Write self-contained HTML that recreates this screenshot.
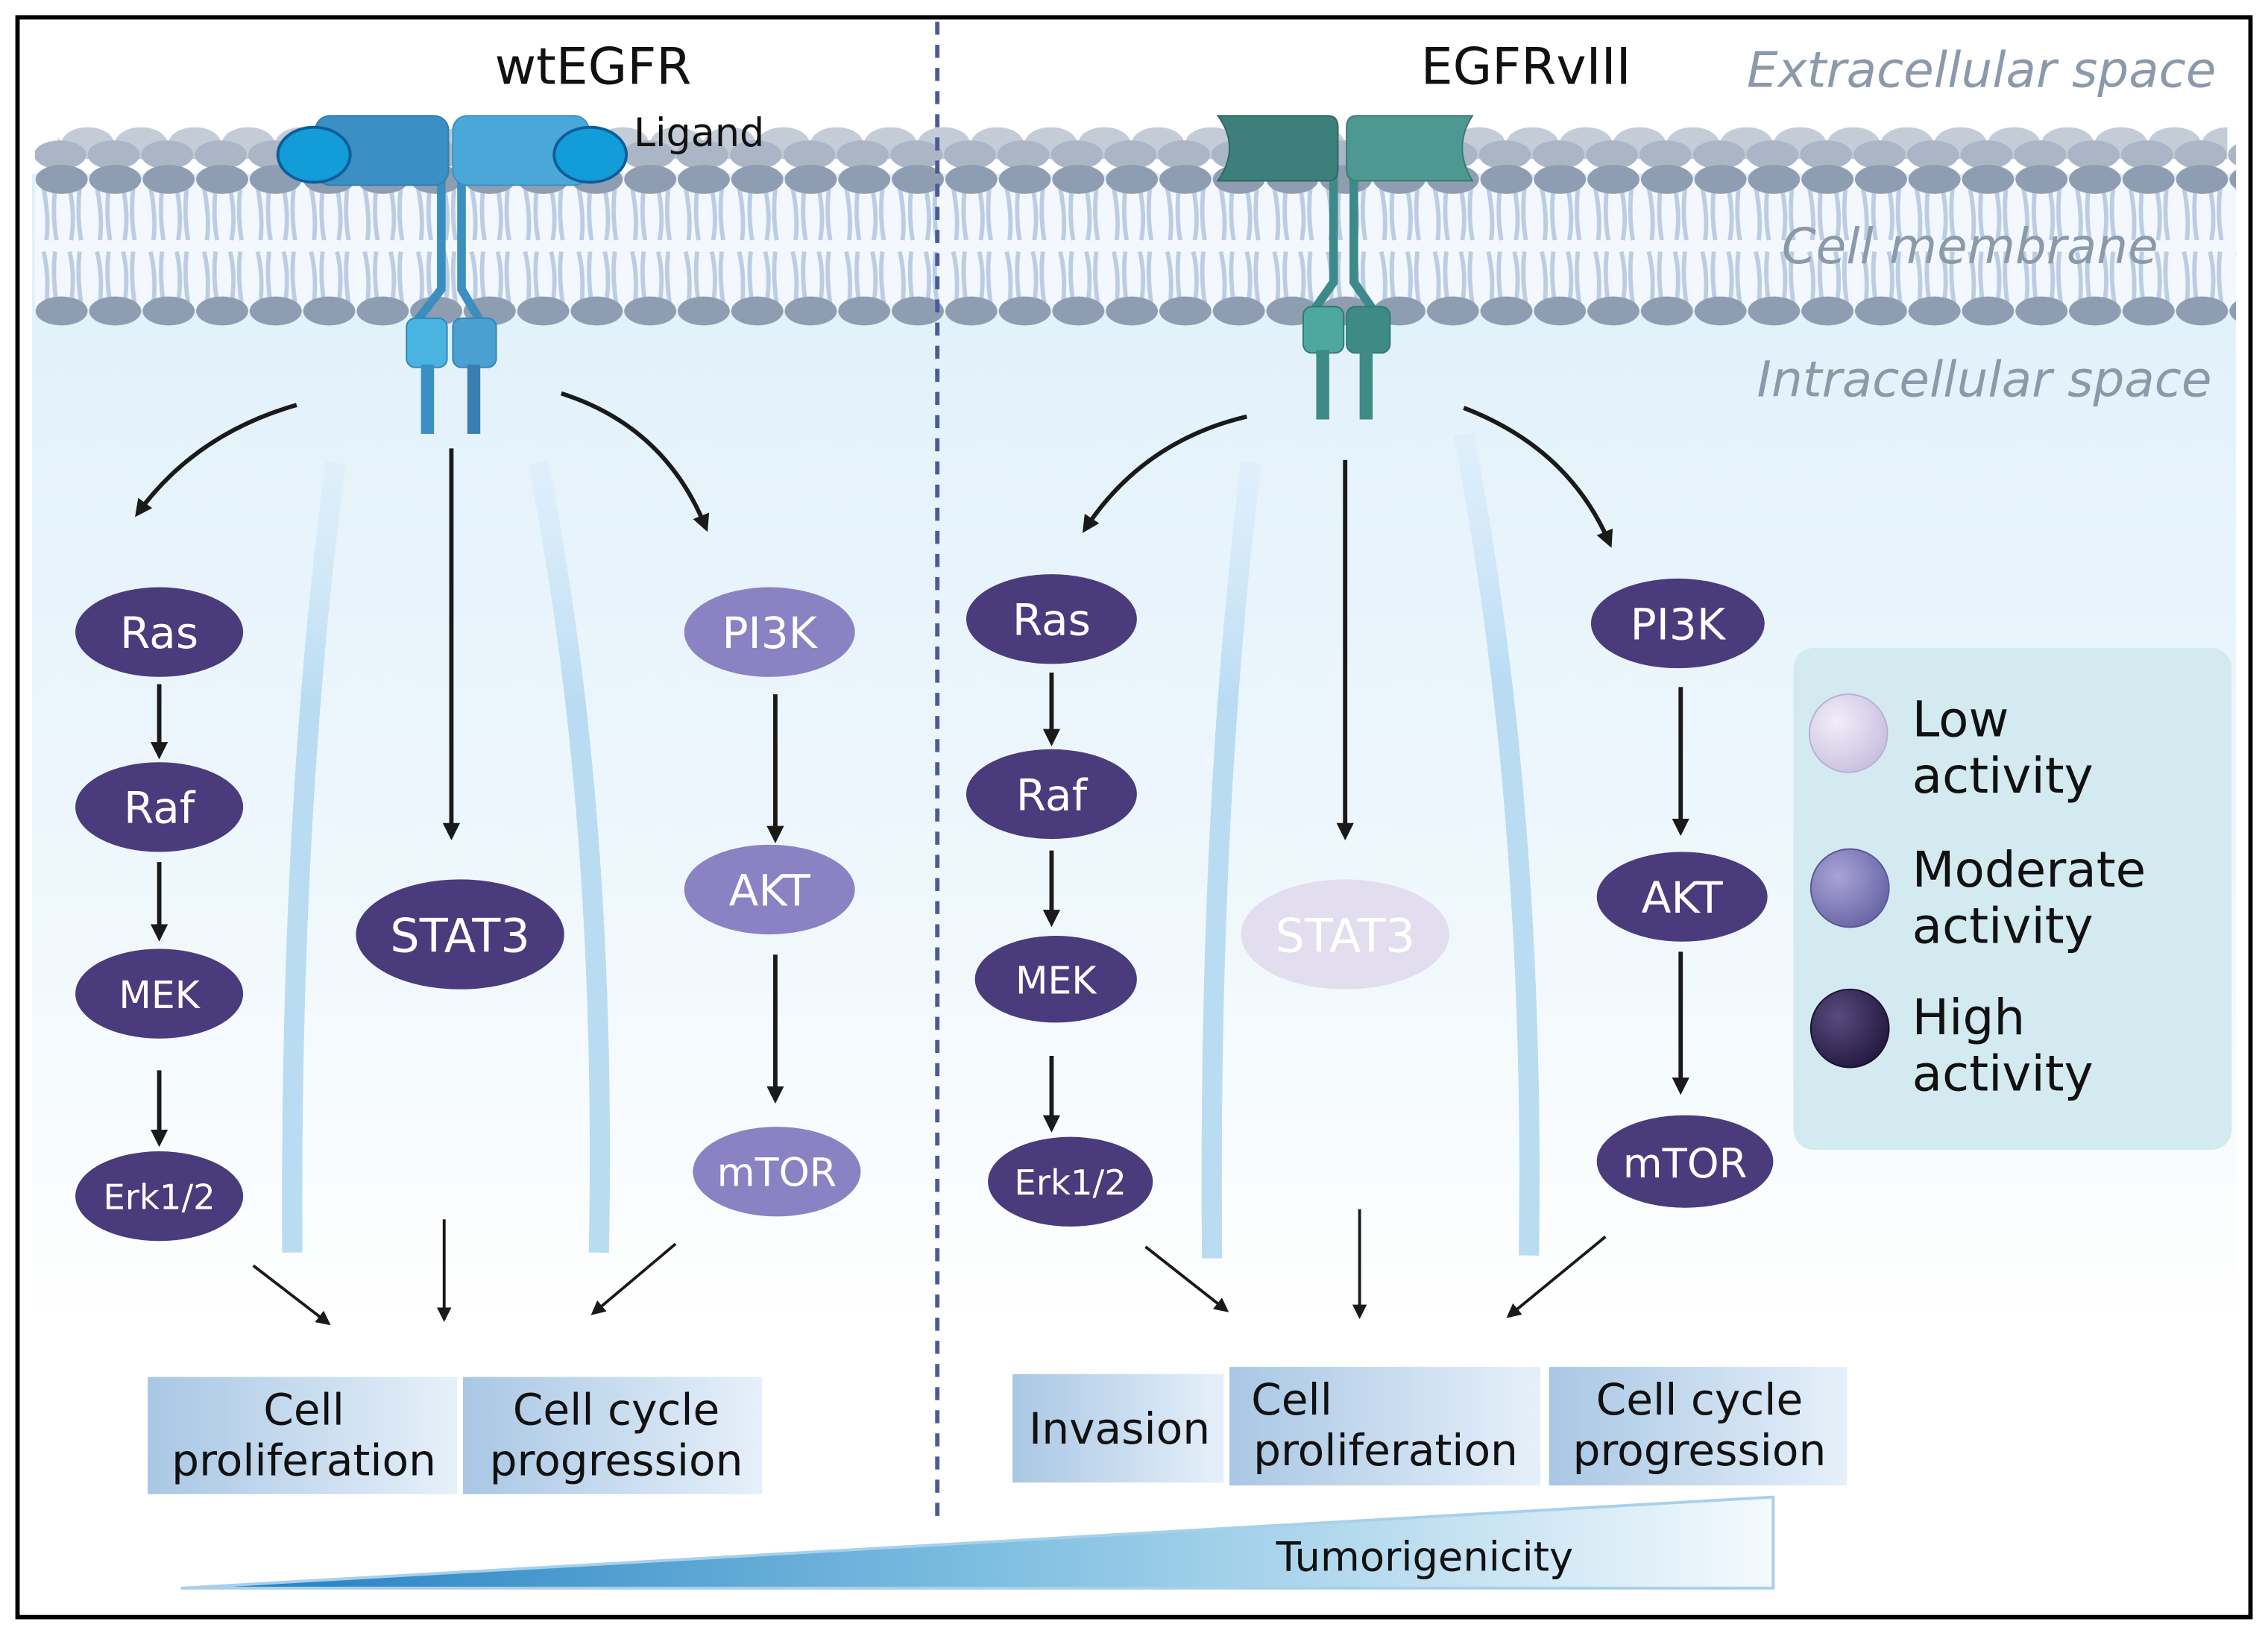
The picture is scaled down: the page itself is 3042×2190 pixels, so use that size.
<!DOCTYPE html>
<html><head><meta charset="utf-8">
<style>
html,body{margin:0;padding:0;background:#fff;}
svg{display:block;}
text{font-family:"DejaVu Sans","Liberation Sans",sans-serif;}
</style></head>
<body>
<svg width="3042" height="2190" viewBox="0 0 1568 1129" xmlns="http://www.w3.org/2000/svg">
<defs>
<linearGradient id="bg" x1="0" y1="0" x2="0" y2="1">
<stop offset="0" stop-color="#dff0fa"/><stop offset="0.6" stop-color="#eef7fc"/><stop offset="1" stop-color="#ffffff"/>
</linearGradient>
<linearGradient id="box" x1="0" y1="0" x2="1" y2="0">
<stop offset="0" stop-color="#a9c7e4"/><stop offset="1" stop-color="#e6f0fa"/>
</linearGradient>
<linearGradient id="tri" x1="0" y1="0" x2="1" y2="0">
<stop offset="0" stop-color="#1f7bbf"/><stop offset="0.5" stop-color="#7cbde0"/><stop offset="1" stop-color="#f4fafd"/>
</linearGradient>
<linearGradient id="band" x1="0" y1="0" x2="0" y2="1">
<stop offset="0" stop-color="#cfe6f7" stop-opacity="0.3"/><stop offset="0.3" stop-color="#b9dcf3"/><stop offset="1" stop-color="#b9dcf3"/>
</linearGradient>
<radialGradient id="sLow" cx="0.35" cy="0.35" r="0.7"><stop offset="0" stop-color="#f2eef9"/><stop offset="1" stop-color="#c9c0e0"/></radialGradient>
<radialGradient id="sMod" cx="0.35" cy="0.35" r="0.7"><stop offset="0" stop-color="#a9a4d6"/><stop offset="1" stop-color="#6a66a8"/></radialGradient>
<radialGradient id="sHigh" cx="0.35" cy="0.35" r="0.7"><stop offset="0" stop-color="#5a4a80"/><stop offset="1" stop-color="#241a40"/></radialGradient>
<marker id="ah" markerWidth="10" markerHeight="10" refX="8" refY="5" orient="auto" markerUnits="userSpaceOnUse"><path d="M0,0 L10,5 L0,10 Z" fill="#1a1a1a"/></marker>
<marker id="ahs" markerWidth="12" markerHeight="12" refX="9" refY="6" orient="auto" markerUnits="userSpaceOnUse"><path d="M0,0 L12,6 L0,12 Z" fill="#1a1a1a"/></marker>
<pattern id="tails" x="24" y="130" width="37" height="80" patternUnits="userSpaceOnUse">
<path d="M6,0 Q10,20 8,36 M14,0 Q12,20 15,36 M24,0 Q28,20 25,36 M31,0 Q29,20 32,36" stroke="#bccde3" stroke-width="3" fill="none"/>
<path d="M6,44 Q10,60 8,80 M14,44 Q12,60 15,80 M24,44 Q28,60 25,80 M31,44 Q29,60 32,80" stroke="#bccde3" stroke-width="3" fill="none"/>
</pattern>
<pattern id="headsB" x="5" y="84" width="37" height="30" patternUnits="userSpaceOnUse">
<ellipse cx="18.5" cy="15" rx="18" ry="11" fill="#c4ccd8"/>
</pattern>
<pattern id="headsB2" x="23" y="96" width="37" height="22" patternUnits="userSpaceOnUse">
<ellipse cx="18.5" cy="11" rx="18" ry="10" fill="#aab6c6"/>
</pattern>
<pattern id="heads" x="24" y="112" width="37" height="24" patternUnits="userSpaceOnUse">
<ellipse cx="18.5" cy="12" rx="18" ry="10" fill="#8e9db1"/>
</pattern>
<pattern id="heads2" x="24" y="203" width="37" height="24" patternUnits="userSpaceOnUse">
<ellipse cx="18.5" cy="12" rx="18" ry="10" fill="#8e9db1"/>
</pattern>
</defs>

<rect x="0" y="0" width="1568" height="1129" fill="#fff"/>
<rect x="22" y="120" width="1524" height="800" fill="url(#bg)"/>

<!-- membrane -->
<rect x="40" y="84" width="1500" height="30" fill="url(#headsB)"/>
<rect x="24" y="96" width="1522" height="22" fill="url(#headsB2)"/>
<rect x="24" y="124" width="1522" height="90" fill="#f2f8fd"/>
<rect x="24" y="130" width="1522" height="80" fill="url(#tails)"/>
<rect x="24" y="112" width="1522" height="24" fill="url(#heads)"/>
<rect x="24" y="203" width="1522" height="24" fill="url(#heads2)"/>

<!-- pale bands -->
<path d="M232,320 Q200,560 202,866" stroke="url(#band)" stroke-width="14" fill="none"/>
<path d="M372,320 Q420,560 414,866" stroke="url(#band)" stroke-width="14" fill="none"/>
<path d="M865,320 Q835,560 838,870" stroke="url(#band)" stroke-width="14" fill="none"/>
<path d="M1012,300 Q1062,560 1057,868" stroke="url(#band)" stroke-width="14" fill="none"/>

<!-- wt receptor -->
<path d="M305,120 L305,200 L288,222 M319,120 L319,200 L332,222" stroke="#3b8fc0" stroke-width="6" fill="none"/>
<rect x="218" y="80" width="92" height="48" rx="10" fill="#3a8fc4" stroke="#2f7fb2"/>
<rect x="313" y="80" width="94" height="48" rx="10" fill="#4aa8d8" stroke="#3a90c0"/>
<ellipse cx="217" cy="107" rx="25" ry="19" fill="#129cd8" stroke="#0c5d9a" stroke-width="2"/>
<ellipse cx="408" cy="107" rx="25" ry="19" fill="#129cd8" stroke="#0c5d9a" stroke-width="2"/>
<rect x="281" y="220" width="28" height="34" rx="6" fill="#4ab4e0" stroke="#2f86b8"/>
<rect x="313" y="220" width="30" height="34" rx="6" fill="#4aa0d0" stroke="#2f86b8"/>
<rect x="291" y="252" width="9" height="48" fill="#3a8fc4"/>
<rect x="323" y="252" width="9" height="48" fill="#3a7fb0"/>
<text x="438" y="101" font-size="27" fill="#111">Ligand</text>

<!-- vIII receptor -->
<path d="M922,120 L922,195 L908,215 M936,120 L936,195 L950,215" stroke="#3e8a8a" stroke-width="6" fill="none"/>
<path d="M850,80 L918,80 Q925,80 925,88 L925,117 Q925,125 918,125 L842,125 Q858,102 842,80 Z" fill="#3d7f7a" stroke="#2e6864"/>
<path d="M938,80 L1018,80 Q1004,102 1018,125 L938,125 Q931,125 931,117 L931,88 Q931,80 938,80 Z" fill="#4d9890" stroke="#3a7a74"/>
<rect x="901" y="212" width="28" height="32" rx="6" fill="#4ea8a0" stroke="#2e7874"/>
<rect x="931" y="212" width="30" height="32" rx="6" fill="#3e8a84" stroke="#2e7874"/>
<rect x="910" y="242" width="9" height="48" fill="#3e8a84"/>
<rect x="940" y="242" width="9" height="48" fill="#3e8a84"/>

<!-- divider -->
<line x1="648" y1="15" x2="648" y2="1052" stroke="#4a5a9a" stroke-width="3" stroke-dasharray="9,7"/>

<!-- titles -->
<text x="410" y="58" font-size="35" fill="#111" text-anchor="middle">wtEGFR</text>
<text x="1055" y="58" font-size="35" fill="#111" text-anchor="middle">EGFRvIII</text>
<g font-style="italic" font-size="34" fill="#8a9aaa" text-anchor="middle">
<text x="1370" y="60">Extracellular space</text>
<text x="1362" y="182">Cell membrane</text>
<text x="1372" y="274">Intracellular space</text>
</g>

<!-- arrows -->
<g stroke="#1a1a1a" stroke-width="3" fill="none" marker-end="url(#ahs)">
<path d="M205,280 Q135,300 95,355"/>
<path d="M388,272 Q460,295 488,365"/>
<path d="M312,310 L312,578"/>
<path d="M862,288 Q790,305 750,366"/>
<path d="M1012,282 Q1085,310 1113,376"/>
<path d="M930,318 L930,578"/>
<path d="M110,473 L110,522"/><path d="M110,596 L110,648"/><path d="M110,740 L110,790"/>
<path d="M536,480 L536,580"/><path d="M536,660 L536,760"/>
<path d="M727,465 L727,513"/><path d="M727,588 L727,638"/><path d="M727,730 L727,780"/>
<path d="M1162,475 L1162,575"/><path d="M1162,658 L1162,754"/>
</g>
<g stroke="#1a1a1a" stroke-width="2" fill="none" marker-end="url(#ah)">
<path d="M175,875 L227,915"/><path d="M307,843 L307,912"/><path d="M467,860 L410,908"/>
<path d="M792,862 L848,906"/><path d="M940,836 L940,910"/><path d="M1110,855 L1043,910"/>
</g>

<!-- nodes -->
<g font-size="30" text-anchor="middle" fill="#fff">
<ellipse cx="110" cy="437" rx="58" ry="31" fill="#4a3b7c"/><text x="110" y="448">Ras</text>
<ellipse cx="110" cy="558" rx="58" ry="31" fill="#4a3b7c"/><text x="110" y="569">Raf</text>
<ellipse cx="110" cy="687" rx="58" ry="31" fill="#4a3b7c"/><text x="110" y="697" font-size="26">MEK</text>
<ellipse cx="110" cy="827" rx="58" ry="31" fill="#4a3b7c"/><text x="110" y="836" font-size="24">Erk1/2</text>
<ellipse cx="318" cy="646" rx="72" ry="38" fill="#4a3b7c"/><text x="318" y="658" font-size="32">STAT3</text>
<ellipse cx="532" cy="437" rx="59" ry="31" fill="#8a82c2"/><text x="532" y="448">PI3K</text>
<ellipse cx="532" cy="615" rx="59" ry="31" fill="#8a82c2"/><text x="532" y="626">AKT</text>
<ellipse cx="537" cy="810" rx="58" ry="31" fill="#8a82c2"/><text x="537" y="820" font-size="27">mTOR</text>
<ellipse cx="727" cy="428" rx="59" ry="31" fill="#4a3b7c"/><text x="727" y="439">Ras</text>
<ellipse cx="727" cy="549" rx="59" ry="31" fill="#4a3b7c"/><text x="727" y="560">Raf</text>
<ellipse cx="730" cy="677" rx="56" ry="30" fill="#4a3b7c"/><text x="730" y="687" font-size="26">MEK</text>
<ellipse cx="740" cy="817" rx="57" ry="31" fill="#4a3b7c"/><text x="740" y="826" font-size="24">Erk1/2</text>
<ellipse cx="930" cy="646" rx="72" ry="38" fill="#e2ddef"/><text x="930" y="658" font-size="32">STAT3</text>
<ellipse cx="1160" cy="431" rx="60" ry="31" fill="#4a3b7c"/><text x="1160" y="442">PI3K</text>
<ellipse cx="1163" cy="620" rx="59" ry="31" fill="#4a3b7c"/><text x="1163" y="631">AKT</text>
<ellipse cx="1165" cy="803" rx="61" ry="32" fill="#4a3b7c"/><text x="1165" y="814" font-size="28">mTOR</text>
</g>

<!-- outcome boxes -->
<g font-size="30" fill="#111" text-anchor="middle">
<rect x="102" y="952" width="214" height="81" fill="url(#box)"/>
<text x="210" y="985">Cell</text><text x="210" y="1020">proliferation</text>
<rect x="320" y="952" width="207" height="81" fill="url(#box)"/>
<text x="426" y="985">Cell cycle</text><text x="426" y="1020">progression</text>
<rect x="700" y="950" width="146" height="75" fill="url(#box)"/>
<text x="774" y="998">Invasion</text>
<rect x="850" y="945" width="215" height="82" fill="url(#box)"/>
<text x="865" y="978" text-anchor="start">Cell</text><text x="958" y="1013">proliferation</text>
<rect x="1071" y="945" width="206" height="82" fill="url(#box)"/>
<text x="1175" y="978">Cell cycle</text><text x="1175" y="1013">progression</text>
</g>

<!-- tumorigenicity -->
<polygon points="125,1098 1226,1035 1226,1098" fill="url(#tri)" stroke="#a8d0ea" stroke-width="2"/>
<text x="985" y="1086" font-size="28" fill="#111" text-anchor="middle">Tumorigenicity</text>

<!-- legend -->
<rect x="1240" y="448" width="303" height="347" rx="14" fill="#d3eaf0"/>
<circle cx="1278" cy="507" r="27" fill="url(#sLow)" stroke="#b8b0d4"/>
<circle cx="1279" cy="614" r="27" fill="url(#sMod)" stroke="#5a5696"/>
<circle cx="1279" cy="711" r="27" fill="url(#sHigh)" stroke="#1a1030"/>
<g font-size="34" fill="#111">
<text x="1322" y="509">Low</text><text x="1322" y="548">activity</text>
<text x="1322" y="613">Moderate</text><text x="1322" y="652">activity</text>
<text x="1322" y="715">High</text><text x="1322" y="754">activity</text>
</g>

<rect x="12" y="12" width="1544" height="1106" fill="none" stroke="#000" stroke-width="3"/>
</svg>
</body></html>
